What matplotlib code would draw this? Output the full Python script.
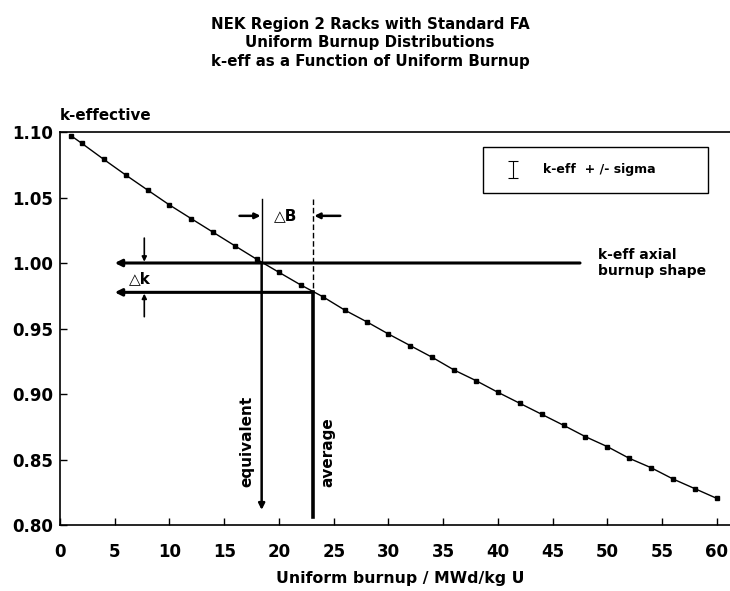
import matplotlib.pyplot as plt
from matplotlib.patches import Rectangle

plt.rcParams['font.family'] = ['DejaVu Sans']
plt.rcParams['font.weight'] = 'bold'
plt.rcParams['axes.labelweight'] = 'bold'

# k-eff vs uniform burnup
burnup = [1, 2, 4, 6, 8, 10, 12, 14, 16, 18, 20, 22, 24, 26, 28, 30,
          32, 34, 36, 38, 40, 42, 44, 46, 48, 50, 52, 54, 56, 58, 60]
keff = [1.0972, 1.0913, 1.0791, 1.0672, 1.0557, 1.0443, 1.0338, 1.0234,
        1.0130, 1.0027, 0.9929, 0.9832, 0.9743, 0.9641, 0.9552, 0.9458,
        0.9369, 0.9280, 0.9183, 0.9102, 0.9013, 0.8929, 0.8845, 0.8761,
        0.8674, 0.8598, 0.8509, 0.8437, 0.8351, 0.8277, 0.8203]

b_equiv = 18.42
b_avg = 23.13
k_axial = 1.000
k_avg = 0.9776

xticks = [0, 5, 10, 15, 20, 25, 30, 35, 40, 45, 50, 55, 60]
yticks = [0.80, 0.85, 0.90, 0.95, 1.00, 1.05, 1.10]

fig = plt.figure(figsize=(7.3, 5.91), dpi=100)
ax = fig.add_axes([60/730, 1-525/591, 1-60/730, (525-132)/591])

ax.plot(burnup, keff, color='black', lw=1.0, marker='s', ms=3.5)

# horizontal arrowed lines
ax.annotate('', xy=(5.0, k_axial), xytext=(47.5, k_axial),
            arrowprops=dict(arrowstyle='-|>', lw=2.2, color='black',
                            mutation_scale=10, shrinkA=0, shrinkB=0))
ax.annotate('', xy=(5.0, k_avg), xytext=(b_avg, k_avg),
            arrowprops=dict(arrowstyle='-|>', lw=2.2, color='black',
                            mutation_scale=10, shrinkA=0, shrinkB=0))

# vertical lines
ax.plot([b_equiv, b_equiv], [1.049, k_axial], color='black', lw=1.0)
ax.annotate('', xy=(b_equiv, 0.8115), xytext=(b_equiv, k_axial),
            arrowprops=dict(arrowstyle='-|>', lw=1.8, color='black',
                            mutation_scale=9, shrinkA=0, shrinkB=0))
ax.plot([b_avg, b_avg], [1.049, k_avg], color='black', lw=1.0, ls=(0, (4, 2)))
ax.plot([b_avg, b_avg], [k_avg, 0.806], color='black', lw=2.6)

# delta B arrows
ax.annotate('', xy=(b_equiv - 0.1, 1.036), xytext=(16.4, 1.036),
            arrowprops=dict(arrowstyle='-|>', lw=1.8, color='black',
                            mutation_scale=8, shrinkA=0, shrinkB=0))
ax.annotate('', xy=(b_avg + 0.1, 1.036), xytext=(25.6, 1.036),
            arrowprops=dict(arrowstyle='-|>', lw=1.8, color='black',
                            mutation_scale=8, shrinkA=0, shrinkB=0))
ax.text(20.6, 1.0365, '\u25b3B', ha='center', va='center', fontsize=11)

# delta k arrows
ax.annotate('', xy=(7.7, k_axial + 0.001), xytext=(7.7, 1.019),
            arrowprops=dict(arrowstyle='-|>', lw=1.2, color='black',
                            mutation_scale=7, shrinkA=0, shrinkB=0))
ax.annotate('', xy=(7.7, k_avg - 0.001), xytext=(7.7, 0.959),
            arrowprops=dict(arrowstyle='-|>', lw=1.2, color='black',
                            mutation_scale=7, shrinkA=0, shrinkB=0))
ax.text(7.26, 0.988, '\u25b3k', ha='center', va='center', fontsize=11)

ax.text(49.1, 1.000, 'k-eff axial\nburnup shape', ha='left', va='center',
        fontsize=10, linespacing=1.15)
ax.text(17.05, 0.864, 'equivalent', rotation=90, ha='center', va='center',
        fontsize=11)
ax.text(24.43, 0.8553, 'average', rotation=90, ha='center', va='center',
        fontsize=11)

# legend box
ax.add_patch(Rectangle((38.6, 1.0534), 20.6, 0.0351, fill=False,
                       edgecolor='black', lw=1.0))
ax.errorbar([41.4], [1.0712], yerr=[0.0065], fmt='none', ecolor='black',
            elinewidth=0.8, capsize=3.5, capthick=0.8)
ax.text(44.1, 1.0712, 'k-eff  + /- sigma', ha='left', va='center',
        fontsize=9)

ax.set_xlim(0, 61.2)
ax.set_ylim(0.80, 1.10)
ax.set_xticks(xticks)
ax.set_yticks(yticks)
ax.set_yticklabels([f'{v:.2f}' for v in yticks])
ax.tick_params(direction='in', length=5, width=1, labelsize=12)
ax.tick_params(axis='x', pad=13)
ax.tick_params(axis='y', pad=5)
ax.spines['right'].set_visible(False)
for s in ['left', 'bottom', 'top']:
    ax.spines[s].set_linewidth(1.2)

fig.text(400/730, 1-578/591, 'Uniform burnup / MWd/kg U', ha='center',
         va='center', fontsize=11.3)
fig.text(60/730, 1-115/591, 'k-effective', ha='left', va='center', fontsize=10.9)

fig.text(370/730, 1-43/591,
         'NEK Region 2 Racks with Standard FA\nUniform Burnup Distributions\n'
         'k-eff as a Function of Uniform Burnup',
         ha='center', va='center', fontsize=10.8, linespacing=1.3)

fig.savefig('out.png', dpi=100)
